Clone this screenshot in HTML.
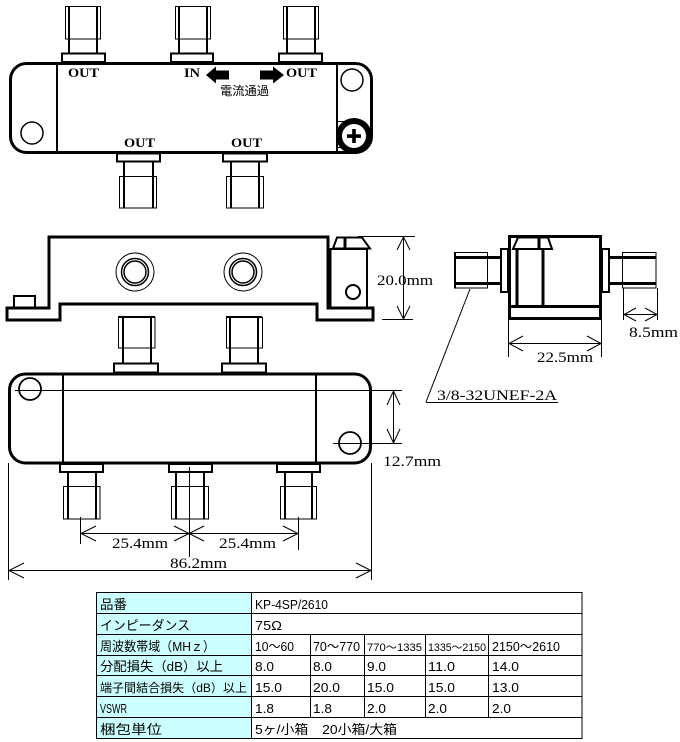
<!DOCTYPE html>
<html><head><meta charset="utf-8"><style>
html,body{margin:0;padding:0;background:#fff;}
svg{display:block;}
.t{stroke:#000;stroke-width:1;fill:none;}
.k{stroke:#000;stroke-width:3;fill:none;}
.m{stroke:#000;stroke-width:2;fill:none;}
.dim{font-family:"Liberation Serif","Noto Serif CJK JP",serif;font-size:15px;fill:#000;}
.lab{font-family:"Liberation Serif",serif;font-weight:bold;font-size:13px;fill:#000;}
.jp{font-family:"Liberation Sans","Noto Sans CJK JP",sans-serif;font-size:13px;fill:#000;}
</style></head><body>
<svg width="680" height="742" viewBox="0 0 680 742" xmlns="http://www.w3.org/2000/svg">
<rect width="680" height="742" fill="#fff"/>

<!-- ============ VIEW 1 (top) ============ -->
<!-- top connectors -->
<g>
<rect class="t" x="65.5" y="6.5" width="35" height="32.5"/>
<line class="m" x1="69" y1="7" x2="69" y2="53"/><line class="m" x1="97" y1="7" x2="97" y2="53"/>
<rect class="m" x="62" y="53.5" width="43" height="8.5" fill="#fff"/>

<rect class="t" x="175.5" y="6.5" width="35" height="32.5"/>
<line class="m" x1="179" y1="7" x2="179" y2="53"/><line class="m" x1="207" y1="7" x2="207" y2="53"/>
<rect class="m" x="171" y="53.5" width="42" height="8.5" fill="#fff"/>

<rect class="t" x="283.5" y="6.5" width="35" height="32.5"/>
<line class="m" x1="287" y1="7" x2="287" y2="53"/><line class="m" x1="315" y1="7" x2="315" y2="53"/>
<rect class="m" x="279" y="53.5" width="43" height="8.5" fill="#fff"/>
</g>
<!-- bottom connectors view1 -->
<g>
<rect class="m" x="117" y="153.5" width="43" height="8" fill="#fff"/>
<line class="m" x1="124" y1="162" x2="124" y2="208"/><line class="m" x1="153" y1="162" x2="153" y2="208"/>
<rect class="t" x="119.5" y="176.5" width="37" height="31.5"/>

<rect class="m" x="223" y="153.5" width="44" height="8" fill="#fff"/>
<line class="m" x1="231" y1="162" x2="231" y2="208"/><line class="m" x1="259" y1="162" x2="259" y2="208"/>
<rect class="t" x="226.5" y="176.5" width="37" height="31.5"/>
</g>
<!-- body -->
<rect class="k" x="10.5" y="63.5" width="361" height="89" rx="16" ry="16"/>
<line class="m" x1="57" y1="63" x2="57" y2="152"/>
<line class="m" x1="337" y1="63" x2="337" y2="152"/>
<circle cx="32" cy="133" r="11" stroke="#000" stroke-width="1.5" fill="none"/>
<circle cx="352" cy="80" r="11" stroke="#000" stroke-width="1.5" fill="none"/>
<rect class="t" x="337.5" y="121.5" width="10" height="26"/>
<circle cx="354" cy="136" r="15" stroke="#000" stroke-width="6" fill="#fff"/>
<rect x="347" y="134.3" width="14" height="3.6" fill="#000"/>
<rect x="352.2" y="129" width="3.6" height="14" fill="#000"/>
<!-- labels -->
<text class="lab" x="68" y="77" textLength="31" lengthAdjust="spacingAndGlyphs">OUT</text>
<text class="lab" x="184" y="77" textLength="16" lengthAdjust="spacingAndGlyphs">IN</text>
<text class="lab" x="286" y="77" textLength="31" lengthAdjust="spacingAndGlyphs">OUT</text>
<text class="lab" x="124" y="147" textLength="31" lengthAdjust="spacingAndGlyphs">OUT</text>
<text class="lab" x="231" y="147" textLength="31" lengthAdjust="spacingAndGlyphs">OUT</text>
<polygon points="206,75 216,66.5 216,70.5 229,70.5 229,79.5 216,79.5 216,83.5" fill="#000"/>
<polygon points="284,75 273,66.5 273,70.5 260,70.5 260,79.5 273,79.5 273,83.5" fill="#000"/>
<text class="jp" x="220" y="95" font-size="12" textLength="49" lengthAdjust="spacingAndGlyphs" style="font-size:12px">電流通過</text>

<!-- ============ VIEW 2 (side) ============ -->
<polygon class="k" points="49,237 328,237 328,308 373,308 373,320 317,320 317,304 60,304 60,320 7,320 7,308 49,308" stroke-linejoin="miter"/>
<rect class="m" x="14" y="296" width="21" height="12"/>
<rect class="m" x="330" y="249" width="37" height="59"/>
<line class="k" x1="330" y1="249" x2="330" y2="308"/>
<polygon class="m" points="337,237.5 362,237.5 370,248.5 333,248.5"/>
<line class="k" x1="345" y1="237" x2="345" y2="248"/>
<circle cx="353" cy="292" r="7" stroke="#000" stroke-width="2" fill="none"/>
<circle cx="135" cy="272" r="19" class="t"/>
<circle cx="135" cy="272" r="13.5" stroke="#000" stroke-width="1.5" fill="none"/>
<circle cx="135" cy="272" r="11" stroke="#000" stroke-width="1.5" fill="none"/>
<circle cx="243" cy="272" r="19" class="t"/>
<circle cx="243" cy="272" r="13.5" stroke="#000" stroke-width="1.5" fill="none"/>
<circle cx="243" cy="272" r="11" stroke="#000" stroke-width="1.5" fill="none"/>
<!-- 20.0 dim -->
<line class="t" x1="358" y1="236.5" x2="415" y2="236.5"/>
<line class="t" x1="382" y1="319.5" x2="413" y2="319.5"/>
<line class="t" x1="403.5" y1="237" x2="403.5" y2="319"/>
<polyline class="t" points="397,250 403.5,237 410,250"/>
<polyline class="t" points="397,306 403.5,319 410,306"/>
<text class="dim" x="377" y="285" textLength="56" lengthAdjust="spacingAndGlyphs">20.0mm</text>

<!-- ============ VIEW 3 (front) ============ -->
<!-- top connectors -->
<line class="m" x1="123" y1="317" x2="123" y2="363"/><line class="m" x1="151" y1="317" x2="151" y2="363"/>
<rect class="t" x="118.5" y="317.5" width="36.5" height="30.5"/>
<line class="m" x1="118" y1="317" x2="155" y2="317"/>
<rect class="m" x="114" y="363.5" width="44" height="9" fill="#fff"/>
<line class="m" x1="230" y1="317" x2="230" y2="363"/><line class="m" x1="258" y1="317" x2="258" y2="363"/>
<rect class="t" x="226.5" y="317.5" width="36" height="30.5"/>
<line class="m" x1="226" y1="317" x2="262" y2="317"/>
<rect class="m" x="222" y="363.5" width="44" height="9" fill="#fff"/>
<!-- body -->
<rect class="k" x="9.5" y="374" width="361" height="89" rx="16" ry="16"/>
<line class="m" x1="63" y1="374" x2="63" y2="463"/>
<line class="m" x1="316" y1="374" x2="316" y2="463"/>
<circle cx="30" cy="389" r="11" stroke="#000" stroke-width="1.8" fill="none"/>
<circle cx="350" cy="443" r="11" stroke="#000" stroke-width="1.8" fill="none"/>
<line class="t" x1="15" y1="390.5" x2="402" y2="390.5"/>
<line class="t" x1="333" y1="443.5" x2="402" y2="443.5"/>
<line class="t" x1="393.5" y1="391" x2="393.5" y2="443"/>
<polyline class="t" points="387,405 393.5,391 400,405"/>
<polyline class="t" points="387,429 393.5,443 400,429"/>
<text class="dim" x="383" y="466" textLength="58" lengthAdjust="spacingAndGlyphs">12.7mm</text>
<!-- bottom connectors -->
<rect class="m" x="60" y="464" width="43" height="8" fill="#fff"/>
<line class="m" x1="68" y1="472" x2="68" y2="519"/><line class="m" x1="96" y1="472" x2="96" y2="519"/>
<rect class="t" x="63.5" y="486.5" width="36.5" height="32.5"/>
<rect class="m" x="169" y="464" width="43" height="8" fill="#fff"/>
<line class="m" x1="176" y1="472" x2="176" y2="519"/><line class="m" x1="204" y1="472" x2="204" y2="519"/>
<rect class="t" x="171.5" y="486.5" width="37" height="32.5"/>
<rect class="m" x="277" y="464" width="43" height="8" fill="#fff"/>
<line class="m" x1="285" y1="472" x2="285" y2="519"/><line class="m" x1="312" y1="472" x2="312" y2="519"/>
<rect class="t" x="280.5" y="486.5" width="36" height="32.5"/>
<!-- center lines -->
<line class="t" x1="80.5" y1="517" x2="80.5" y2="544"/>
<line class="t" x1="189.5" y1="467" x2="189.5" y2="557"/>
<line class="t" x1="298.5" y1="517" x2="298.5" y2="550"/>
<!-- 25.4 dims -->
<line class="t" x1="81" y1="533.5" x2="298" y2="533.5"/>
<polyline class="t" points="96,526 81,533.5 96,541"/>
<polyline class="t" points="174,526 189,533.5 174,541"/>
<polyline class="t" points="204,526 189,533.5 204,541"/>
<polyline class="t" points="283,526 298,533.5 283,541"/>
<text class="dim" x="112" y="548" textLength="56" lengthAdjust="spacingAndGlyphs">25.4mm</text>
<text class="dim" x="219" y="548" textLength="57" lengthAdjust="spacingAndGlyphs">25.4mm</text>
<!-- 86.2 -->
<line class="t" x1="8.5" y1="463" x2="8.5" y2="580"/>
<line class="t" x1="371.5" y1="463" x2="371.5" y2="580"/>
<line class="t" x1="9" y1="570.5" x2="371" y2="570.5"/>
<polyline class="t" points="24,563 9,570.5 24,578"/>
<polyline class="t" points="356,563 371,570.5 356,578"/>
<text class="dim" x="170" y="568" textLength="57" lengthAdjust="spacingAndGlyphs">86.2mm</text>

<!-- ============ VIEW 4 ============ -->
<rect class="t" x="454.5" y="252.5" width="33" height="35.5"/>
<line class="m" x1="455" y1="252" x2="455" y2="288"/>
<line class="k" x1="455" y1="257.5" x2="501" y2="257.5"/>
<line class="k" x1="455" y1="283.5" x2="501" y2="283.5"/>
<rect class="m" x="501" y="249" width="7" height="43" fill="#fff"/>
<rect class="t" x="622.5" y="252.5" width="33.5" height="35.5"/>
<line class="k" x1="609" y1="257.5" x2="656" y2="257.5"/>
<line class="k" x1="609" y1="283.5" x2="656" y2="283.5"/>
<rect class="m" x="602" y="249" width="7" height="43" fill="#fff"/>
<rect class="k" x="509.5" y="236.5" width="91" height="82"/>
<line class="k" x1="509" y1="306.5" x2="601" y2="306.5"/>
<line class="k" x1="517" y1="249" x2="517" y2="306"/>
<line class="k" x1="543" y1="249" x2="543" y2="306"/>
<polygon class="m" points="518,237.5 548,237.5 552,249 513,249"/>
<line class="k" x1="539" y1="237" x2="539" y2="249"/>
<!-- 22.5 dim -->
<line class="t" x1="508.5" y1="319" x2="508.5" y2="357"/>
<line class="t" x1="601.5" y1="319" x2="601.5" y2="357"/>
<line class="t" x1="509" y1="343.5" x2="601" y2="343.5"/>
<polyline class="t" points="523,336 509,343.5 523,351"/>
<polyline class="t" points="587,336 601,343.5 587,351"/>
<text class="dim" x="537" y="362" textLength="56" lengthAdjust="spacingAndGlyphs">22.5mm</text>
<!-- 8.5 dim -->
<line class="t" x1="623.5" y1="288" x2="623.5" y2="320"/>
<line class="t" x1="657.5" y1="288" x2="657.5" y2="320"/>
<line class="t" x1="624" y1="314.5" x2="657" y2="314.5"/>
<polyline class="t" points="636,308 624,314.5 636,321"/>
<polyline class="t" points="645,308 657,314.5 645,321"/>
<text class="dim" x="629" y="337" textLength="49" lengthAdjust="spacingAndGlyphs">8.5mm</text>
<!-- leader -->
<line class="t" x1="470" y1="289" x2="426" y2="402"/>
<line class="t" x1="426" y1="402.5" x2="558" y2="402.5"/>
<text class="dim" x="437" y="400" textLength="120" lengthAdjust="spacingAndGlyphs">3/8-32UNEF-2A</text>

<!-- ============ TABLE ============ -->
<g>
<rect x="96.5" y="592.5" width="154.5" height="146" fill="#ccffff"/>
<rect x="96.5" y="592.5" width="485.5" height="146" fill="none" stroke="#000" stroke-width="1"/>
<line class="t" x1="251.5" y1="592" x2="251.5" y2="739"/>
<line class="t" x1="96" y1="613.5" x2="582" y2="613.5"/>
<line class="t" x1="96" y1="634.5" x2="582" y2="634.5"/>
<line class="t" x1="96" y1="655.5" x2="582" y2="655.5"/>
<line class="t" x1="96" y1="675.5" x2="582" y2="675.5"/>
<line class="t" x1="96" y1="696.5" x2="582" y2="696.5"/>
<line class="t" x1="96" y1="717.5" x2="582" y2="717.5"/>
<line class="t" x1="310.5" y1="634" x2="310.5" y2="717"/>
<line class="t" x1="364.5" y1="634" x2="364.5" y2="717"/>
<line class="t" x1="425.5" y1="634" x2="425.5" y2="717"/>
<line class="t" x1="488.5" y1="634" x2="488.5" y2="717"/>
</g>
<g class="jp">
<text class="jp" x="100" y="609" textLength="27" lengthAdjust="spacingAndGlyphs">品番</text>
<text class="jp" x="255" y="609" textLength="73" lengthAdjust="spacingAndGlyphs">KP-4SP/2610</text>
<text class="jp" x="100" y="630" textLength="90" lengthAdjust="spacingAndGlyphs">インピーダンス</text>
<text class="jp" x="255" y="630" textLength="27" lengthAdjust="spacingAndGlyphs">75Ω</text>
<text class="jp" x="100" y="651" textLength="115" lengthAdjust="spacingAndGlyphs">周波数帯域（MHｚ）</text>
<text class="jp" x="255" y="651" textLength="39" lengthAdjust="spacingAndGlyphs">10～60</text>
<text class="jp" x="313" y="651" textLength="47" lengthAdjust="spacingAndGlyphs">70～770</text>
<text class="jp" x="367" y="651" textLength="55" lengthAdjust="spacingAndGlyphs" style="font-size:11px">770～1335</text>
<text class="jp" x="428" y="651" textLength="58" lengthAdjust="spacingAndGlyphs" style="font-size:11px">1335～2150</text>
<text class="jp" x="492" y="651" textLength="68" lengthAdjust="spacingAndGlyphs">2150～2610</text>
<text class="jp" x="100" y="671" textLength="123" lengthAdjust="spacingAndGlyphs">分配損失（dB）以上</text>
<text class="jp" x="255" y="671" textLength="19" lengthAdjust="spacingAndGlyphs">8.0</text>
<text class="jp" x="313" y="671" textLength="19" lengthAdjust="spacingAndGlyphs">8.0</text>
<text class="jp" x="367" y="671" textLength="19" lengthAdjust="spacingAndGlyphs">9.0</text>
<text class="jp" x="428" y="671" textLength="27" lengthAdjust="spacingAndGlyphs">11.0</text>
<text class="jp" x="492" y="671" textLength="27" lengthAdjust="spacingAndGlyphs">14.0</text>
<text class="jp" x="100" y="692" textLength="147" lengthAdjust="spacingAndGlyphs" style="font-size:12px">端子間結合損失（dB）以上</text>
<text class="jp" x="255" y="692" textLength="27" lengthAdjust="spacingAndGlyphs">15.0</text>
<text class="jp" x="313" y="692" textLength="27" lengthAdjust="spacingAndGlyphs">20.0</text>
<text class="jp" x="367" y="692" textLength="27" lengthAdjust="spacingAndGlyphs">15.0</text>
<text class="jp" x="428" y="692" textLength="27" lengthAdjust="spacingAndGlyphs">15.0</text>
<text class="jp" x="492" y="692" textLength="27" lengthAdjust="spacingAndGlyphs">13.0</text>
<text class="jp" x="100" y="713" textLength="27" lengthAdjust="spacingAndGlyphs">VSWR</text>
<text class="jp" x="255" y="713" textLength="19" lengthAdjust="spacingAndGlyphs">1.8</text>
<text class="jp" x="313" y="713" textLength="19" lengthAdjust="spacingAndGlyphs">1.8</text>
<text class="jp" x="367" y="713" textLength="19" lengthAdjust="spacingAndGlyphs">2.0</text>
<text class="jp" x="428" y="713" textLength="19" lengthAdjust="spacingAndGlyphs">2.0</text>
<text class="jp" x="492" y="713" textLength="19" lengthAdjust="spacingAndGlyphs">2.0</text>
<text class="jp" x="100" y="734" textLength="62" lengthAdjust="spacingAndGlyphs">梱包単位</text>
<text class="jp" x="255" y="734" textLength="142" lengthAdjust="spacingAndGlyphs">5ヶ/小箱　20小箱/大箱</text>
</g>
</svg>
</body></html>
